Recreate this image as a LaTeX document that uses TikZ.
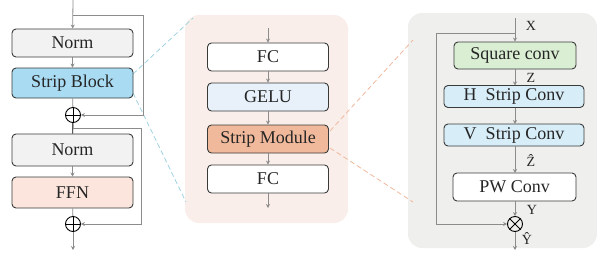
\documentclass[tikz,border=0pt]{standalone}
\usepackage{fontspec}
\setmainfont{Liberation Serif}
\usepackage{xcolor}
\usepackage{tikz}
\usetikzlibrary{arrows.meta, positioning}

\definecolor{boxline}{HTML}{3A3A3A}
\definecolor{arrgray}{HTML}{8C8C8C}
\definecolor{normfill}{HTML}{F2F2F2}
\definecolor{stripfill}{HTML}{A9DCF3}
\definecolor{ffnfill}{HTML}{FBE5DC}
\definecolor{midpanel}{HTML}{F9EEEA}
\definecolor{gelufill}{HTML}{E8F1F9}
\definecolor{modfill}{HTML}{F1B99B}
\definecolor{rightpanel}{HTML}{EFEFED}
\definecolor{sqfill}{HTML}{D9EED3}
\definecolor{hvfill}{HTML}{D7EDF8}
\definecolor{bluedash}{HTML}{9FD3E0}
\definecolor{orangedash}{HTML}{F0B89E}

\tikzset{
  blk/.style={draw=boxline, line width=0.9pt, rounded corners=4pt, minimum width=121pt,
    minimum height=28pt, inner sep=0pt, font=\fontsize{18}{20}\selectfont, text=black!85},
  flow/.style={draw=arrgray, line width=0.8pt, -{Stealth[length=4pt,width=4pt]}},
  plain/.style={draw=arrgray, line width=0.8pt},
  opnode/.style={circle, draw=black, line width=0.9pt, minimum size=15pt, inner sep=0pt},
  sig/.style={font=\fontsize{14}{16}\selectfont, inner sep=0pt, text=black!85},
  zoomline/.style={dashed, dash pattern=on 5pt off 3pt, line width=0.8pt}
}

\begin{document}
\begin{tikzpicture}[x=1pt,y=-1pt]
\useasboundingbox (0,0) rectangle (598,255);

% panels
\fill[midpanel, rounded corners=14pt] (185,15) rectangle (348,223);
\fill[rightpanel, rounded corners=14pt] (408,13) rectangle (597,248);

% zoom lines
\draw[zoomline, bluedash] (133,74) -- (193,18);
\draw[zoomline, bluedash] (133,93) -- (186,202);
\draw[zoomline, orangedash] (330,131) -- (413,40);
\draw[zoomline, orangedash] (330,148) -- (413,202);

% left: block
\coordinate (lin) at (73,0);
\coordinate (lout) at (73,250);
\node[blk, fill=normfill] (norma) at (72.5,43) {Norm};
\node[blk, fill=stripfill, minimum height=30pt] (strip) at (72.5,83) {Strip Block};
\node[opnode] (plusa) at (73,115) {};
\node[blk, fill=normfill, minimum height=32pt] (normb) at (72.5,150) {Norm};
\node[blk, fill=ffnfill, minimum height=31pt] (ffn) at (72.5,192.5) {FFN};
\node[opnode] (plusb) at (73,224) {};
\draw[black, line width=0.9pt] (plusa.north) -- (plusa.south) (plusa.west) -- (plusa.east);
\draw[black, line width=0.9pt] (plusb.north) -- (plusb.south) (plusb.west) -- (plusb.east);

\draw[flow] (lin) -- (norma);
\draw[flow] (norma) -- (strip);
\draw[plain] (strip) -- (plusa);
\draw[black, line width=0.9pt] (plusa) -- (normb);
\draw[flow] (normb) -- (ffn);
\draw[plain] (ffn) -- (plusb);
\draw[flow] (plusb) -- (lout);
\draw[flow] (73,15) -- (143,15) -- (143,115) -- (plusa);
\draw[flow] (73,128) -- (141,128) -- (141,224) -- (plusb);

% middle: strip block
\coordinate (min) at (268,28);
\coordinate (mout) at (268,208);
\node[blk, fill=white] (fca) at (268,57) {FC};
\node[blk, fill=gelufill] (gelu) at (268,97) {GELU};
\node[blk, fill=modfill] (smod) at (268,139) {Strip Module};
\node[blk, fill=white] (fcb) at (268,179) {FC};
\draw[flow] (min) -- (fca);
\draw[flow] (fca) -- (gelu);
\draw[flow] (gelu) -- (smod);
\draw[flow] (smod) -- (fcb);
\draw[flow] (fcb) -- (mout);

% right: strip module
\coordinate (rin) at (515,18);
\coordinate (rout) at (515,250);
\node[blk, fill=sqfill, minimum width=122pt, minimum height=27pt] (sq) at (515,55.5) {Square conv};
\node[blk, fill=hvfill, minimum width=140pt, minimum height=22pt] (hs) at (514,96.5) {H\ \ Strip Conv};
\node[blk, fill=hvfill, minimum width=140pt, minimum height=22pt] (vs) at (514,135) {V\ \ Strip Conv};
\node[blk, fill=white, minimum width=123pt] (pw) at (514.5,187) {PW Conv};
\node[opnode] (mul) at (515,224) {};
\draw[black, line width=0.9pt] (mul.north west) -- (mul.south east) (mul.north east) -- (mul.south west);

\draw[flow] (rin) -- (sq);
\draw[flow] (515,69) -- (515,85.5);
\draw[flow] (515,107.5) -- (515,124);
\draw[flow] (515,146) -- (515,173);
\draw[flow] (515,201) -- (mul);
\draw[flow] (mul) -- (rout);
\draw[flow] (515,33) -- (436,33) -- (436,224) -- (mul);

\node[sig] (lx) at (531,26) {X};
\node[sig] (lz) at (531,78) {Z};
\node[sig] (lzh) at (531,160) {\^{Z}};
\node[sig] (ly) at (532,210) {Y};
\node[sig] (lyh) at (527,238) {\^{Y}};
\end{tikzpicture}
\end{document}
